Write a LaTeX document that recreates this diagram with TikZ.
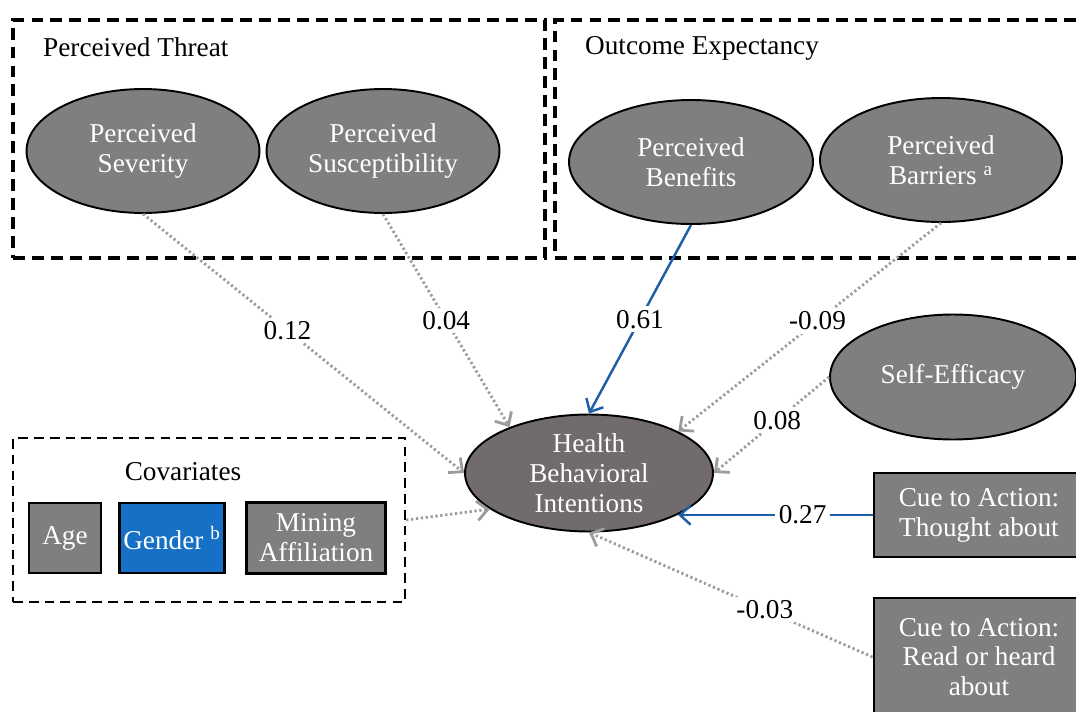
\documentclass[tikz,border=0pt]{standalone}
\usepackage{fontspec}
\setmainfont{Liberation Serif}
\usepackage{tikz}
\usetikzlibrary{shapes.geometric, arrows.meta, positioning}

\definecolor{latgrey}{HTML}{7F7F7F}
\definecolor{depgrey}{HTML}{716B6C}
\definecolor{genblue}{HTML}{1670C6}
\definecolor{pathblue}{HTML}{1F5DA6}
\definecolor{nsgrey}{HTML}{9C9C9C}

\begin{document}
\begin{tikzpicture}[x=0.02cm, y=-0.02cm, font=\fontsize{15.5}{17}\selectfont]
%
% Sketch (values = standardised paths):
%  [Severity] [Susceptibility]   [Benefits] [Barriers]
%         \        \                 |        /
%          \        \                v       /      [Self-Efficacy]
%  [Covariates] --> (Health Behavioral Intentions) <-- cues
%
\tikzstyle{groupbox} = [rectangle, draw=black, line width=1.8pt, dash pattern=on 6.8pt off 4pt]
\tikzstyle{covbox} = [rectangle, draw=black, line width=1.3pt, dash pattern=on 5.5pt off 3.5pt]
\tikzstyle{latent} = [ellipse, minimum width=4.66cm, minimum height=2.48cm, draw=black, line width=1.1pt, fill=latgrey, text=white, align=center, inner sep=0pt]
\tikzstyle{observed} = [rectangle, draw=black, line width=1.6pt, fill=latgrey, text=white, align=center, inner sep=2pt]
\tikzstyle{sigpath} = [draw=pathblue, line width=1.4pt, -{Straight Barb[length=6pt,width=11pt]}]
\tikzstyle{nspath} = [draw=nsgrey, line width=1.6pt, dash pattern=on 1.3pt off 1.5pt, -{Straight Barb[length=6pt,width=11pt]}]
\tikzstyle{coef} = [fill=white, text=black, inner sep=2pt]

\useasboundingbox (0,0) rectangle (1076,711);
\clip (0,0) rectangle (1076,711);

% Groups
\node (threat) [groupbox, minimum width=10.64cm, minimum height=4.76cm] at (279,139) {};
\node (threatlbl) [anchor=west] at (37,47) {Perceived Threat};
\node (outcome) [groupbox, minimum width=10.8cm, minimum height=4.76cm] at (825,139) {};
\node (outcomelbl) [anchor=west] at (579,48) {Outcome Expectancy};
\node (cov) [covbox, minimum width=7.84cm, minimum height=3.28cm] at (209,520) {};
\node (covlbl) at (183,472) {Covariates};

% Nodes
\node (sev) [latent] at (143,151) {Perceived\\Severity};
\node (sus) [latent] at (383,151) {Perceived\\Susceptibility};
\node (ben) [latent, minimum width=4.88cm] at (691,162) {Perceived\\Benefits};
\node (bar) [latent, minimum width=4.84cm] at (941,160) {Perceived\\Barriers \textsuperscript{a}};
\node (self) [latent, minimum width=4.92cm, minimum height=2.5cm] at (953,377) {Self-Efficacy};
\node (hbi) [latent, fill=depgrey, minimum width=4.96cm, minimum height=2.34cm] at (589,473) {Health\\Behavioral\\Intentions};
\node (age) [observed, minimum width=1.44cm, minimum height=1.4cm] at (65,538) {Age};
\node (gender) [observed, fill=genblue, minimum width=2.06cm, minimum height=1.4cm] at (172,538) {Gender \textsuperscript{b}};
\node (mining) [observed, minimum width=2.78cm, minimum height=1.42cm] at (316,538) {Mining\\Affiliation};
\node (thought) [observed, minimum width=4.2cm, minimum height=1.68cm] at (979,515) {Cue to Action:\\Thought about};
\node (read) [observed, minimum width=4.2cm, minimum height=2.36cm] at (979,657) {Cue to Action:\\Read or heard\\about};

% Arrows
\draw [nspath] (sev.south) -- node[coef, pos=0.45] {0.12} (hbi.west);
\draw [nspath] (sus.south) -- node[coef, pos=0.5] {0.04} (hbi.150);
\draw [sigpath] (ben.south) -- node[coef, pos=0.5] {0.61} (hbi.north);
\draw [nspath] (bar.south) -- node[coef, pos=0.47] {-0.09} (hbi.25);
\draw [nspath] (self.west) -- node[coef, pos=0.45] {0.08} (hbi.east);
\draw [sigpath] (thought.west) -- node[coef, pos=0.36] {0.27} (hbi.-25 |- thought.west);
\draw [nspath] (read.west) -- node[coef, pos=0.38] {-0.03} (hbi.south);
\draw [nspath] (cov.east) -- (hbi.200);

\end{tikzpicture}
\end{document}
